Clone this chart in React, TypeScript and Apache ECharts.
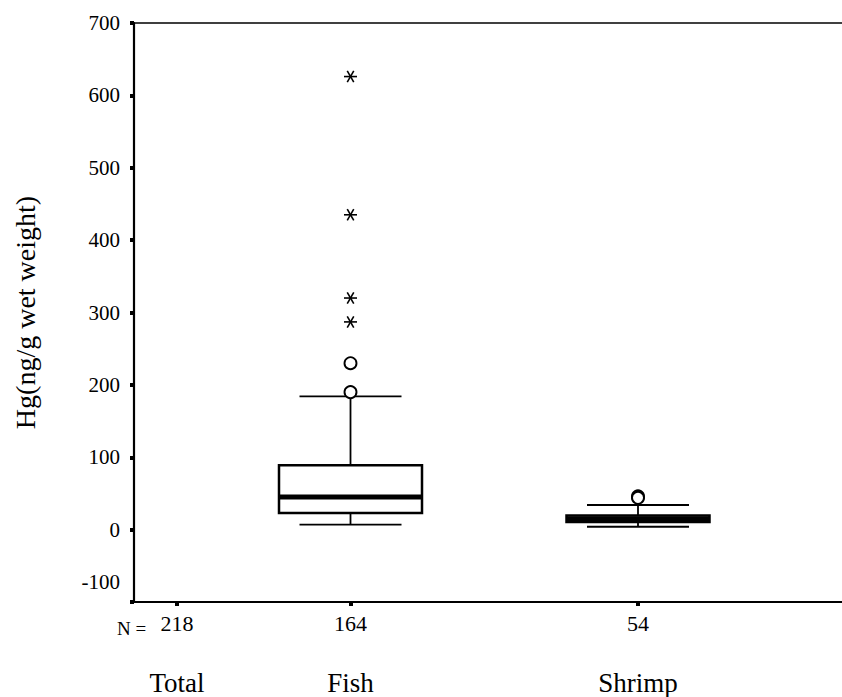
import React, { useEffect, useRef } from 'react';
import * as echarts from 'echarts';

// ---- data ----
const categories = ['Total', 'Fish', 'Shrimp'];
const sampleSizes = [218, 164, 54];
// SPSS places the groups unevenly along the x axis (axis units, 0..708)
const categoryPositions = [43, 216.5, 504];
const xAxisMax = 708;
// [lower whisker, Q1, median, Q3, upper whisker]; Total has no box drawn
const fishBox = [7, 23, 45, 89, 184];
const shrimpBox = [4, 10.5, 15, 19.5, 34];
const fishCircles = [230, 190];
const fishStars = [626, 435, 320, 287];
const shrimpCircles = [46, 44];
const yMin = -100;
const yMax = 700;
const yInterval = 100;

const FONT = "'Liberation Serif', 'Times New Roman', serif";

export default function App() {
  const ref = useRef<HTMLDivElement>(null);

  useEffect(() => {
    if (!ref.current) return;
    const chart = echarts.init(ref.current, null, { renderer: 'svg' });

    const boxData = [
      [categoryPositions[1], ...fishBox],
      [categoryPositions[2], ...shrimpBox],
    ];
    const outlierData: any[] = [];
    fishCircles.forEach((v) => outlierData.push([categoryPositions[1], v, 0]));
    fishStars.forEach((v) => outlierData.push([categoryPositions[1], v, 1]));
    shrimpCircles.forEach((v) => outlierData.push([categoryPositions[2], v, 0]));

    const option: any = {
      animation: false,
      backgroundColor: '#fff',
      grid: { left: 134, right: 0, top: 23, bottom: 95, containLabel: false },
      xAxis: [
        {
          type: 'value',
          min: 0,
          max: xAxisMax,
          position: 'bottom',
          splitLine: { show: false },
          axisLine: { show: true, onZero: false, lineStyle: { color: '#000', width: 2.2 } },
          axisTick: {
            show: true,
            customValues: categoryPositions,
            length: 4,
            lineStyle: { color: '#000', width: 4 },
          },
          axisLabel: {
            show: true,
            customValues: categoryPositions,
            margin: 9,
            color: '#000',
            fontFamily: FONT,
            formatter: (value: number) => {
              const i = categoryPositions.findIndex((p) => Math.abs(p - value) < 0.01);
              if (i < 0) return '';
              return `{n|${sampleSizes[i]}}\n{c|${categories[i]}}`;
            },
            rich: {
              n: { fontSize: 22, lineHeight: 24, fontFamily: FONT, color: '#000' },
              c: { fontSize: 27, lineHeight: 96, fontFamily: FONT, color: '#000' },
            },
          },
        },
        {
          type: 'value',
          min: 0,
          max: xAxisMax,
          position: 'top',
          splitLine: { show: false },
          axisLine: { show: true, onZero: false, lineStyle: { color: '#000', width: 1.6 } },
          axisTick: { show: false },
          axisLabel: { show: false },
        },
      ],
      yAxis: {
        type: 'value',
        min: yMin,
        max: yMax,
        interval: yInterval,
        name: 'Hg(ng/g wet weight)',
        nameLocation: 'middle',
        nameGap: 95,
        nameTextStyle: { fontSize: 28, fontFamily: FONT, color: '#000' },
        splitLine: { show: false },
        axisLine: { show: true, onZero: false, lineStyle: { color: '#000', width: 2.2 } },
        axisTick: { show: true, length: 4, lineStyle: { color: '#000', width: 4 } },
        axisLabel: {
          margin: 14,
          color: '#000',
          fontSize: 21,
          fontFamily: FONT,
          formatter: (v: number) => (v === yMin ? `{lo|${v}}` : `${v}`),
          rich: {
            lo: { fontSize: 21, fontFamily: FONT, color: '#000', padding: [0, 0, 40, 0] },
          },
        },
      },
      graphic: [
        {
          type: 'text',
          left: 117,
          top: 619,
          style: { text: 'N =', fontSize: 19, fontFamily: FONT, fill: '#000' },
        },
      ],
      series: [
        {
          type: 'custom',
          xAxisIndex: 0,
          encode: { x: 0, y: [1, 2, 3, 4, 5] },
          data: boxData,
          renderItem: (params: any, api: any) => {
            const x = api.value(0);
            const low = api.coord([x, api.value(1)]);
            const q1 = api.coord([x, api.value(2)]);
            const med = api.coord([x, api.value(3)]);
            const q3 = api.coord([x, api.value(4)]);
            const high = api.coord([x, api.value(5)]);
            const cx = low[0];
            const halfBox = 71.5;
            const halfCap = 51;
            const ls = { stroke: '#000', lineWidth: 1.8 };
            return {
              type: 'group',
              children: [
                { type: 'line', shape: { x1: cx, y1: high[1], x2: cx, y2: q3[1] }, style: ls },
                { type: 'line', shape: { x1: cx, y1: q1[1], x2: cx, y2: low[1] }, style: ls },
                { type: 'line', shape: { x1: cx - halfCap, y1: high[1], x2: cx + halfCap, y2: high[1] }, style: ls },
                { type: 'line', shape: { x1: cx - halfCap, y1: low[1], x2: cx + halfCap, y2: low[1] }, style: ls },
                {
                  type: 'rect',
                  shape: { x: cx - halfBox, y: q3[1], width: halfBox * 2, height: q1[1] - q3[1] },
                  style: { fill: '#fff', stroke: '#000', lineWidth: 2.5 },
                },
                {
                  type: 'line',
                  shape: { x1: cx - halfBox, y1: med[1], x2: cx + halfBox, y2: med[1] },
                  style: { stroke: '#000', lineWidth: 5 },
                },
              ],
            };
          },
        },
        {
          type: 'custom',
          xAxisIndex: 0,
          encode: { x: 0, y: 1 },
          data: outlierData,
          renderItem: (params: any, api: any) => {
            const p = api.coord([api.value(0), api.value(1)]);
            const kind = api.value(2);
            if (kind === 0) {
              return {
                type: 'circle',
                shape: { cx: p[0], cy: p[1], r: 6 },
                style: { fill: '#fff', stroke: '#000', lineWidth: 1.9 },
              };
            }
            const r = 6.5;
            const dx = r * Math.cos(Math.PI / 3);
            const dy = r * Math.sin(Math.PI / 3);
            const st = { stroke: '#000', lineWidth: 1.6 };
            return {
              type: 'group',
              children: [
                { type: 'line', shape: { x1: p[0] - r, y1: p[1], x2: p[0] + r, y2: p[1] }, style: st },
                { type: 'line', shape: { x1: p[0] - dx, y1: p[1] - dy, x2: p[0] + dx, y2: p[1] + dy }, style: st },
                { type: 'line', shape: { x1: p[0] + dx, y1: p[1] - dy, x2: p[0] - dx, y2: p[1] + dy }, style: st },
              ],
            };
          },
        },
      ],
    };

    chart.setOption(option);
    return () => chart.dispose();
  }, []);

  return (
    <div
      ref={ref}
      style={{ position: 'fixed', left: 0, top: 0, width: 842, height: 697, background: '#fff' }}
    />
  );
}
